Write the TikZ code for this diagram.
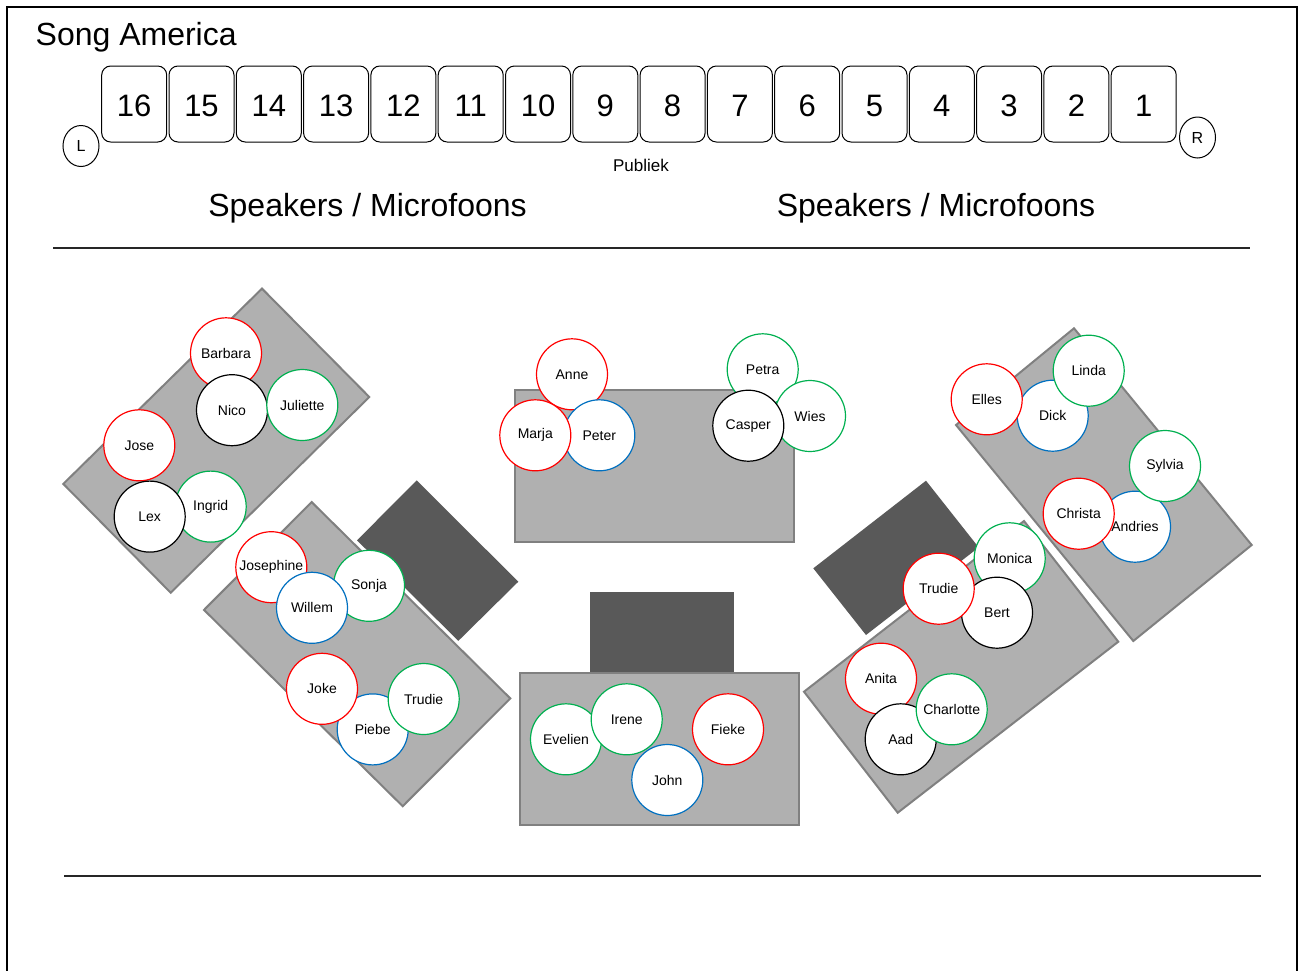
\documentclass[tikz,border=0pt]{standalone}
\usepackage{fontspec}
\setmainfont{Liberation Sans}
\usetikzlibrary{shapes.geometric}
\definecolor{pred}{HTML}{FF0000}
\definecolor{pgreen}{HTML}{00B050}
\definecolor{pblue}{HTML}{0070C0}
\definecolor{tblfill}{HTML}{B0B0B0}
\definecolor{tbledge}{HTML}{808080}
\definecolor{spkfill}{HTML}{595959}
\begin{document}
\begin{tikzpicture}[x=1pt,y=-1pt,
  person/.style={circle,draw,fill=white,minimum size=71pt,inner sep=0pt,line width=1.2pt,font=\fontsize{14}{16}\selectfont},
  pr/.style={person,draw=pred},
  pg/.style={person,draw=pgreen},
  pb/.style={person,draw=pblue},
  pk/.style={person,draw=black},
  tbl/.style={fill=tblfill,draw=tbledge,line width=2pt,line join=miter},
  spk/.style={fill=spkfill,draw=none},
  seat/.style={draw,rounded corners=9pt,minimum width=65pt,minimum height=76pt,inner sep=0pt,line width=1pt},
  seatnum/.style={anchor=base,inner sep=0pt,font=\fontsize{31}{36}\selectfont},
  sidemark/.style={ellipse,draw,minimum width=36pt,minimum height=41pt,inner sep=0pt,line width=1pt,font=\fontsize{16}{18}\selectfont},
  bigtext/.style={inner sep=0pt,font=\fontsize{32}{38}\selectfont},
  rule/.style={line width=1.2pt,draw=black!85}]
\useasboundingbox (0,0) rectangle (1298,970);
% frame
\draw[line width=2pt] (7,975) -- (7,7) -- (1297,7) -- (1297,975);
% title
\node[bigtext,anchor=base west] (title) at (35.5,45) {Song America};
% audience seats
\foreach \i in {0,...,15}{
  \pgfmathtruncatemacro{\num}{16-\i}
  \pgfmathsetmacro{\cx}{134.2+\i*67.3}
  \node[seat] (seat\num) at (\cx,104) {};
  \node[seatnum] (num\num) at (\cx,116) {\num};
}
\node[sidemark] (L) at (81,146) {L};
\node[sidemark] (R) at (1197.5,137.5) {R};
\node[inner sep=0pt,anchor=base,font=\fontsize{17}{20}\selectfont] (publiek) at (641,171) {Publiek};
\node[bigtext,anchor=base] (spkL) at (367.5,216) {Speakers / Microfoons};
\node[bigtext,anchor=base] (spkR) at (936,216) {Speakers / Microfoons};
% rules
\draw[rule] (53,248) -- (1250,248);
\draw[rule] (64,876) -- (1261,876);
% tables and speakers
\draw[tbl] (262,288.6) -- (369.3,397) -- (170.7,592.7) -- (63.3,483.9) -- cycle;
\draw[tbl] (311.7,502.1) -- (510.3,698.4) -- (402.7,806.2) -- (204,609.9) -- cycle;
\fill[spk] (416.7,480.4) -- (518.3,581.7) -- (458.3,640.9) -- (357,540.3) -- cycle;
\draw[tbl] (515,390) rectangle (794,542);
\fill[spk] (590,592) rectangle (734,673);
\draw[tbl] (520,673) rectangle (799,825);
\fill[spk] (926,480.7) -- (978.7,547.4) -- (866,635) -- (813.3,568.3) -- cycle;
\draw[tbl] (1024,521) -- (1118.3,641.7) -- (897.7,812.7) -- (804,691.7) -- cycle;
\draw[tbl] (1074,328.3) -- (1251.7,545) -- (1133.3,641) -- (956,425) -- cycle;
% people: upper left table
\node[pr] (barbara) at (226,353.3) {Barbara};
\node[pk] (nico) at (232,410.2) {Nico};
\node[pg] (juliette) at (302.3,405) {Juliette};
\node[pr] (jose) at (139.3,445.3) {Jose};
\node[pg] (ingrid) at (210.7,506.6) {Ingrid};
\node[pk] (lex) at (149.7,516.6) {Lex};
% lower left table
\node[pr] (josephine) at (271.3,567.2) {Josephine};
\node[pg] (sonja) at (369,585.8) {Sonja};
\node[pb] (willem) at (312,607.8) {Willem};
\node[pb] (piebe) at (372.7,729.4) {Piebe};
\node[pr] (joke) at (322,688.8) {Joke};
\node[pg] (trudieL) at (423.7,699) {Trudie};
% upper centre table
\node[pr] (anne) at (572,374.3) {Anne};
\node[pb] (peter) at (599.3,435.3) {Peter};
\node[pr] (marja) at (535.3,435.3) {Marja};
\node[pg] (petra) at (762.7,369.3) {Petra};
\node[pg] (wies) at (810,416) {Wies};
\node[pk] (casper) at (748.3,425.7) {Casper};
% lower centre table
\node[pg] (evelien) at (566,739.3) {Evelien};
\node[pb] (john) at (667.3,780) {John};
\node[pg] (irene) at (626.7,719.3) {Irene};
\node[pr] (fieke) at (728,729.3) {Fieke};
% upper right table
\node[pb] (dick) at (1052.7,415.7) {Dick};
\node[pr] (elles) at (986.7,399.3) {Elles};
\node[pg] (linda) at (1088.7,370.7) {Linda};
\node[pb] (andries) at (1135,526.7) {Andries};
\node[pr] (christa) at (1078.7,513.7) {Christa};
\node[pg] (sylvia) at (1165,466) {Sylvia};
% lower right table
\node[pg] (monica) at (1009.7,558.3) {Monica};
\node[pk] (bert) at (997,612.7) {Bert};
\node[pr] (trudieR) at (938.7,588.7) {Trudie};
\node[pr] (anita) at (881,678.7) {Anita};
\node[pk] (aad) at (900.7,739.3) {Aad};
\node[pg] (charlotte) at (951.7,709.3) {Charlotte};
\end{tikzpicture}
\end{document}
